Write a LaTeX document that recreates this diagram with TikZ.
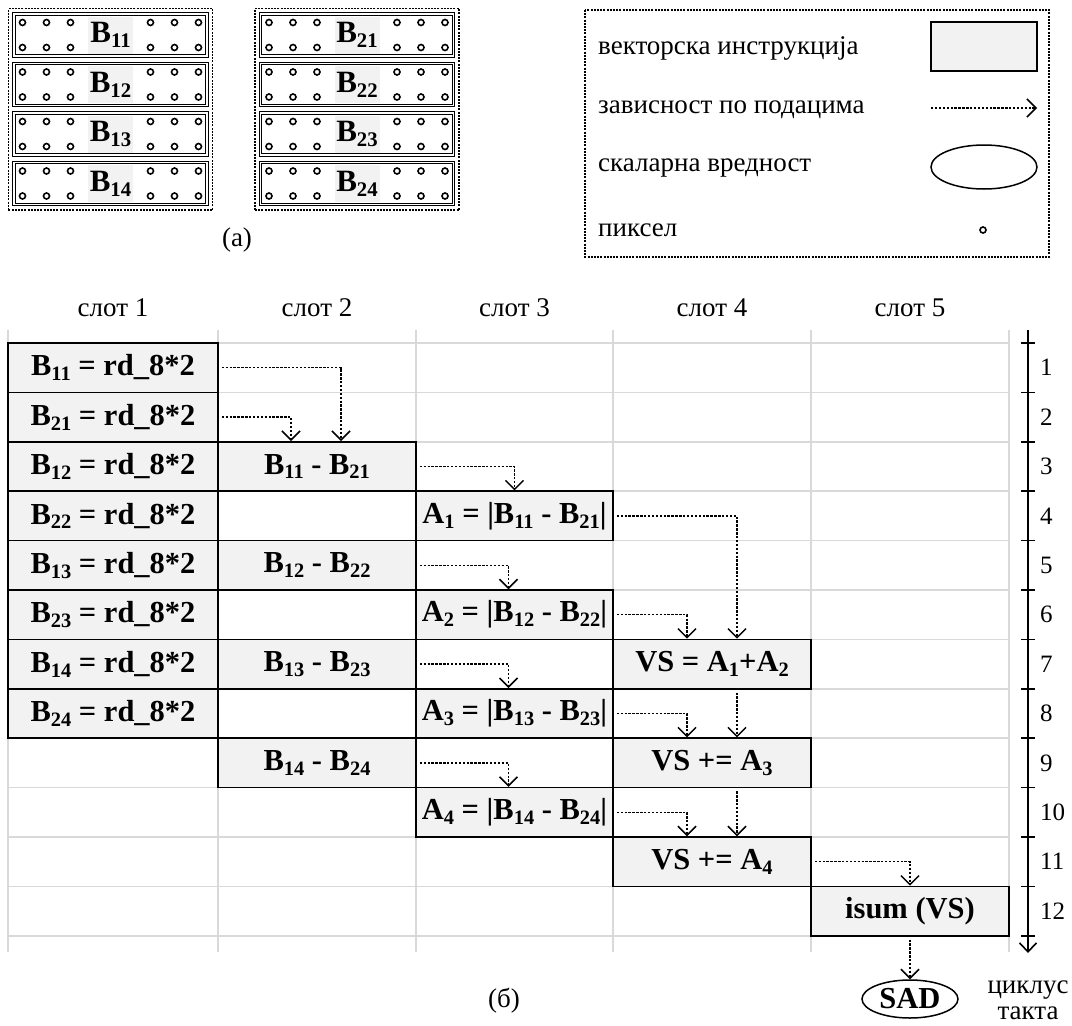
\documentclass[tikz,border=0pt]{standalone}
\usepackage{fontspec}
\setmainfont{Liberation Serif}
\usetikzlibrary{
    arrows.meta,
    positioning,
    fit,
    shapes.geometric
}
\newcommand{\sbx}[1]{\raisebox{-0.16em}{\scalebox{0.67}{#1}}}

\begin{document}
\begin{tikzpicture}[
    x=1pt, y=-1pt,
    every node/.style={
        font=\fontsize{27pt}{29pt}\selectfont,
        inner sep=0pt
    },
    vecbox/.style={
        rectangle,
        draw=black,
        fill=gray!10,
        line width=1.5pt,
        minimum width=198pt,
        minimum height=49.4pt,
        font=\fontsize{30.5pt}{32pt}\selectfont\bfseries
    },
    scalar/.style={
        ellipse,
        draw=black,
        line width=1.5pt,
        minimum width=96pt,
        minimum height=38pt,
        font=\fontsize{30.5pt}{32pt}\selectfont\bfseries
    },
    pixblock/.style={
        rectangle,
        draw=black,
        double=white,
        double distance=1.3pt,
        line width=1.2pt,
        minimum width=193pt,
        minimum height=42pt
    },
    blocklabel/.style={
        rectangle,
        fill=gray!10,
        minimum width=45pt,
        minimum height=37pt,
        font=\fontsize{31pt}{32pt}\selectfont\bfseries
    },
    pixel/.style={
        draw=black,
        line width=1.6pt
    },
    framebox/.style={
        rectangle,
        draw=black,
        dash pattern=on 2pt off 1.2pt,
        line width=1.6pt
    },
    gridline/.style={
        draw=gray!30,
        line width=1.5pt
    },
    dep/.style={
        -{Straight Barb[length=9pt,width=18pt,line width=1.5pt]},
        line width=1.5pt,
        dash pattern=on 2.4pt off 1.5pt,
        shorten <=3pt
    },
    axis/.style={
        draw=black,
        line width=1.6pt
    }
]

% ==========================================================
% (a) pixel blocks
% ==========================================================
\node[pixblock] (blk11) at (110.5,35) {};
\node[pixblock] (blk12) at (110.5,84.5) {};
\node[pixblock] (blk13) at (110.5,134) {};
\node[pixblock] (blk14) at (110.5,183.5) {};

\node[pixblock] (blk21) at (357,35) {};
\node[pixblock] (blk22) at (357,84.5) {};
\node[pixblock] (blk23) at (357,134) {};
\node[pixblock] (blk24) at (357,183.5) {};

\foreach \blk in {blk11,blk12,blk13,blk14,blk21,blk22,blk23,blk24}{
    \foreach \dx in {-88,-64,-40,40,64,88}{
        \foreach \dy in {-12.5,12.5}{
            \draw[pixel] ([shift={(\dx,\dy)}]\blk.center) circle[radius=3];
        }
    }
}

\node[blocklabel] (lbl11) at (blk11) {B\sbx{11}};
\node[blocklabel] (lbl12) at (blk12) {B\sbx{12}};
\node[blocklabel] (lbl13) at (blk13) {B\sbx{13}};
\node[blocklabel] (lbl14) at (blk14) {B\sbx{14}};
\node[blocklabel] (lbl21) at (blk21) {B\sbx{21}};
\node[blocklabel] (lbl22) at (blk22) {B\sbx{22}};
\node[blocklabel] (lbl23) at (blk23) {B\sbx{23}};
\node[blocklabel] (lbl24) at (blk24) {B\sbx{24}};

\node[framebox, inner sep=5pt, fit=(blk11)(blk14)] (grp1) {};
\node[framebox, inner sep=5pt, fit=(blk21)(blk24)] (grp2) {};

\node (capa) at (237,240) {(a)};

% ==========================================================
% Legend
% ==========================================================
\draw[framebox] (585,10) rectangle (1049,257);

\node[anchor=west] (legvectxt) at (598,48) {векторска инструкција};
\node[anchor=west] (legdeptxt) at (598,110) {зависност по подацима};
\node[anchor=west] (legsctxt) at (598,168) {скаларна вредност};
\node[anchor=west] (legpixtxt) at (598,230) {пиксел};

\node[vecbox, minimum width=106pt, minimum height=49pt] (legvec) at (984,46.5) {};
\coordinate (legdepA) at (931,108);
\coordinate (legdepB) at (1037,108);
\draw[dep, shorten <=0pt] (legdepA) -- (legdepB);
\node[scalar, minimum width=106pt, minimum height=44pt] (legsc) at (984,167) {};
\draw[pixel] (983,230) circle[radius=3];

% ==========================================================
% (b) schedule grid
% ==========================================================
\foreach \gx in {8,218,416,613,811,1009}
    \draw[gridline] (\gx,330) -- (\gx,952);
\foreach \k in {0,...,12}
    \draw[gridline] (8,{343+\k*49.4}) -- (1009,{343+\k*49.4});

\foreach \i/\cx in {1/113,2/317,3/514.5,4/712,5/910}
    \node (slot\i) at (\cx,308) {слот \i};

% clock-cycle axis
\coordinate (axtop) at (1028,330);
\coordinate (axend) at (1028,953);
\draw[axis, -{Straight Barb[length=9pt,width=17pt]}] (axtop) -- (axend);
\foreach \k in {0,...,12}
    \draw[axis] (1021,{343+\k*49.4}) -- (1035,{343+\k*49.4});
\foreach \k in {1,...,12}
    \node[anchor=west, font=\fontsize{25pt}{27pt}\selectfont] (cyc\k) at (1040,{343+(\k-0.5)*49.4}) {\k};

\node[align=center] (cyclbl) at (1028,1000) {циклус\\[-3pt]такта};

% slot 1: loads
\node[vecbox, minimum width=210pt] (ld11) at (113,367.7) {B\sbx{11} = rd\_8*2};
\node[vecbox, minimum width=210pt] (ld21) at (113,417.1) {B\sbx{21} = rd\_8*2};
\node[vecbox, minimum width=210pt] (ld12) at (113,466.5) {B\sbx{12} = rd\_8*2};
\node[vecbox, minimum width=210pt] (ld22) at (113,515.9) {B\sbx{22} = rd\_8*2};
\node[vecbox, minimum width=210pt] (ld13) at (113,565.3) {B\sbx{13} = rd\_8*2};
\node[vecbox, minimum width=210pt] (ld23) at (113,614.7) {B\sbx{23} = rd\_8*2};
\node[vecbox, minimum width=210pt] (ld14) at (113,664.1) {B\sbx{14} = rd\_8*2};
\node[vecbox, minimum width=210pt] (ld24) at (113,713.5) {B\sbx{24} = rd\_8*2};

% slot 2: differences
\node[vecbox] (sub1) at (317,466.5) {B\sbx{11} - B\sbx{21}};
\node[vecbox] (sub2) at (317,565.3) {B\sbx{12} - B\sbx{22}};
\node[vecbox] (sub3) at (317,664.1) {B\sbx{13} - B\sbx{23}};
\node[vecbox] (sub4) at (317,762.9) {B\sbx{14} - B\sbx{24}};

% slot 3: absolute values
\node[vecbox, minimum width=197pt] (abs1) at (514.5,515.9) {A\sbx{1} = |B\sbx{11} - B\sbx{21}|};
\node[vecbox, minimum width=197pt] (abs2) at (514.5,614.7) {A\sbx{2} = |B\sbx{12} - B\sbx{22}|};
\node[vecbox, minimum width=197pt] (abs3) at (514.5,713.5) {A\sbx{3} = |B\sbx{13} - B\sbx{23}|};
\node[vecbox, minimum width=197pt] (abs4) at (514.5,812.3) {A\sbx{4} = |B\sbx{14} - B\sbx{24}|};

% slot 4: accumulation
\node[vecbox] (acc1) at (712,664.1) {VS = A\sbx{1}+A\sbx{2}};
\node[vecbox] (acc2) at (712,762.9) {VS += A\sbx{3}};
\node[vecbox] (acc3) at (712,861.7) {VS += A\sbx{4}};

% slot 5: horizontal sum
\node[vecbox] (isum) at (910,911.1) {isum (VS)};
\node[scalar] (sad) at (910,999) {SAD};

\node (capb) at (504,1001) {(б)};

% ==========================================================
% Data dependencies
% ==========================================================
\draw[dep] (ld11.east) -| ([xshift=24pt]sub1.north);
\draw[dep] (ld21.east) -| ([xshift=-26pt]sub1.north);
\draw[dep] (sub1.east) -| (abs1.north);
\draw[dep] (sub2.east) -| ([xshift=-6pt]abs2.north);
\draw[dep] (sub3.east) -| ([xshift=-6pt]abs3.north);
\draw[dep] (sub4.east) -| ([xshift=-6pt]abs4.north);
\draw[dep] (abs1.east) -| ([xshift=25pt]acc1.north);
\draw[dep] (abs2.east) -| ([xshift=-25pt]acc1.north);
\draw[dep] (abs3.east) -| ([xshift=-25pt]acc2.north);
\draw[dep] (abs4.east) -| ([xshift=-25pt]acc3.north);
\draw[dep] ([xshift=25pt]acc1.south) -- ([xshift=25pt]acc2.north);
\draw[dep] ([xshift=25pt]acc2.south) -- ([xshift=25pt]acc3.north);
\draw[dep] (acc3.east) -| (isum.north);
\draw[dep] (isum.south) -- (sad.north);

\useasboundingbox (0,0) rectangle (1072,1026);
\end{tikzpicture}
\end{document}
